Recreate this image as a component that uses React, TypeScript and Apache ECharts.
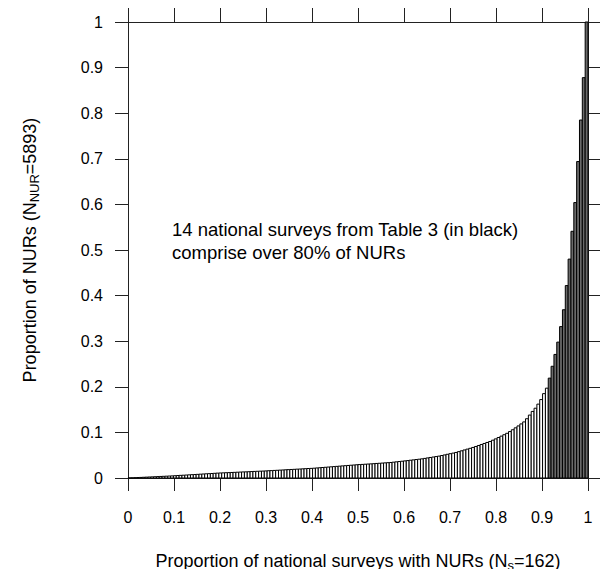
import React, { useEffect, useRef } from "react";
import * as echarts from "echarts";

// Cumulative proportion of NURs, surveys sorted by NUR count (ascending)
// First 148 surveys (white bars)
const whiteShares: number[] = [
  0.0002, 0.0004, 0.0007, 0.001, 0.0013, 0.0016, 0.0019, 0.0022, 0.0025, 0.0028,
  0.0031, 0.0034, 0.0037, 0.004, 0.0043, 0.0046, 0.005, 0.0054, 0.0058, 0.0061,
  0.0065, 0.0069, 0.0073, 0.0076, 0.008, 0.0084, 0.0088, 0.0092, 0.0095, 0.0099,
  0.0103, 0.0107, 0.011, 0.0113, 0.0116, 0.0118, 0.0121, 0.0124, 0.0127, 0.013,
  0.0133, 0.0135, 0.0138, 0.0141, 0.0144, 0.0147, 0.015, 0.0152, 0.0155, 0.0159,
  0.0162, 0.0166, 0.0169, 0.0173, 0.0176, 0.018, 0.0183, 0.0187, 0.019, 0.0194,
  0.0197, 0.0201, 0.0204, 0.0208, 0.0211, 0.0215, 0.022, 0.0225, 0.023, 0.0235,
  0.024, 0.0245, 0.025, 0.0255, 0.026, 0.0265, 0.027, 0.0275, 0.028, 0.0285,
  0.029, 0.0294, 0.0298, 0.0302, 0.0306, 0.031, 0.0314, 0.0319, 0.0323, 0.0327,
  0.0332, 0.0336, 0.034, 0.0347, 0.0354, 0.0361, 0.0368, 0.0375, 0.0382, 0.039,
  0.0397, 0.0405, 0.0412, 0.042, 0.043, 0.044, 0.045, 0.046, 0.047, 0.048,
  0.0493, 0.0506, 0.052, 0.0533, 0.0546, 0.056, 0.0578, 0.0596, 0.0615, 0.0633,
  0.0651, 0.067, 0.0691, 0.0713, 0.0735, 0.0757, 0.0779, 0.08, 0.0829, 0.0858,
  0.0888, 0.0918, 0.0949, 0.098, 0.1018, 0.1058, 0.11, 0.1142, 0.1186, 0.123,
  0.13, 0.138, 0.146, 0.153, 0.162, 0.172, 0.185, 0.197,
];
// Last 14 surveys: national surveys from Table 3 (black bars)
const blackShares: number[] = [
  0.219, 0.245, 0.271, 0.298, 0.332, 0.369, 0.422, 0.48, 0.541, 0.604,
  0.694, 0.785, 0.878, 1.0,
];
const axisTicks: number[] = [0, 0.1, 0.2, 0.3, 0.4, 0.5, 0.6, 0.7, 0.8, 0.9, 1];

const FONT = "'Liberation Sans', Arial, Helvetica, sans-serif";

export default function App() {
  const ref = useRef<HTMLDivElement>(null);
  useEffect(() => {
    if (!ref.current) return;
    const chart = echarts.init(ref.current, undefined, { renderer: "svg" });
    const n = whiteShares.length + blackShares.length;
    const toItems = (arr: number[], offset: number) =>
      arr.map((v, i) => [(offset + i) / n, (offset + i + 1) / n, v]);
    const whiteData = toItems(whiteShares, 0);
    const blackData = toItems(blackShares, whiteShares.length);

    const renderBar = (fill: string) => (params: any, api: any) => {
      const p0 = api.coord([api.value(0), 0]);
      const p1 = api.coord([api.value(1), api.value(2)]);
      return {
        type: "rect",
        shape: { x: p0[0], y: p1[1], width: p1[0] - p0[0], height: p0[1] - p1[1] },
        style: { fill, stroke: "#000", lineWidth: 1 },
      };
    };

    const fmt = (v: number) => {
      const r = Math.round(v * 10) / 10;
      return axisTicks.includes(r) ? String(r) : "";
    };
    const lineStyle = { color: "#222", width: 1 };
    const baseAxis = {
      type: "value" as const,
      min: 0,
      max: 1,
      interval: 0.1,
      splitLine: { show: false },
    };
    const subRich = {
      n: { fontSize: 18, fontFamily: FONT, color: "#000" },
      s: { fontSize: 13, fontFamily: FONT, color: "#000", padding: [10, 0, 0, 0] },
    };

    chart.setOption({
      animation: false,
      backgroundColor: "#fff",
      textStyle: { fontFamily: FONT },
      grid: { left: 128, top: 22, width: 460, height: 460 },
      xAxis: [
        {
          ...baseAxis,
          position: "bottom",
          axisLine: { show: true, onZero: false, lineStyle },
          axisTick: { show: true, inside: false, length: 13, lineStyle },
          axisLabel: { show: true, margin: 31, fontSize: 16, color: "#000", fontFamily: FONT, formatter: fmt },
          name: "{n|Proportion of national surveys with NURs (N}{s|s}{n|=162)}",
          nameLocation: "middle",
          nameGap: 71,
          nameTextStyle: { color: "#000", rich: subRich },
        },
        {
          ...baseAxis,
          position: "top",
          axisLine: { show: true, onZero: false, lineStyle },
          axisTick: { show: true, inside: false, length: 14, lineStyle },
          axisLabel: { show: false },
        },
      ],
      yAxis: [
        {
          ...baseAxis,
          position: "left",
          axisLine: { show: true, onZero: false, lineStyle },
          axisTick: { show: true, inside: false, length: 13, lineStyle },
          axisLabel: { show: true, margin: 25, fontSize: 16, color: "#000", fontFamily: FONT, formatter: fmt },
          name: "{n|Proportion of NURs (N}{s|NUR}{n|=5893)}",
          nameLocation: "middle",
          nameRotate: 90,
          nameGap: 87,
          nameTextStyle: { color: "#000", rich: subRich },
        },
        {
          ...baseAxis,
          position: "right",
          axisLine: { show: true, onZero: false, lineStyle },
          axisTick: { show: true, inside: false, length: 14, lineStyle },
          axisLabel: { show: false },
        },
      ],
      graphic: [
        {
          type: "text",
          x: 172,
          y: 241,
          style: {
            text: "14 national surveys from Table 3 (in black)\ncomprise over 80% of NURs",
            font: `18.5px ${FONT}`,
            fill: "#000",
            lineHeight: 23,
            verticalAlign: "middle",
            align: "left",
          },
          z: 10,
        },
      ],
      series: [
        {
          type: "custom",
          name: "other",
          xAxisIndex: 0,
          yAxisIndex: 0,
          renderItem: renderBar("#ffffff"),
          encode: { x: [0, 1], y: 2 },
          data: whiteData,
          clip: false,
        },
        {
          type: "custom",
          name: "table3",
          xAxisIndex: 0,
          yAxisIndex: 0,
          renderItem: renderBar("#6a6a6a"),
          encode: { x: [0, 1], y: 2 },
          data: blackData,
          clip: false,
        },
      ],
    });
    return () => chart.dispose();
  }, []);
  return <div ref={ref} style={{ width: 608, height: 577, margin: -8 }} />;
}
